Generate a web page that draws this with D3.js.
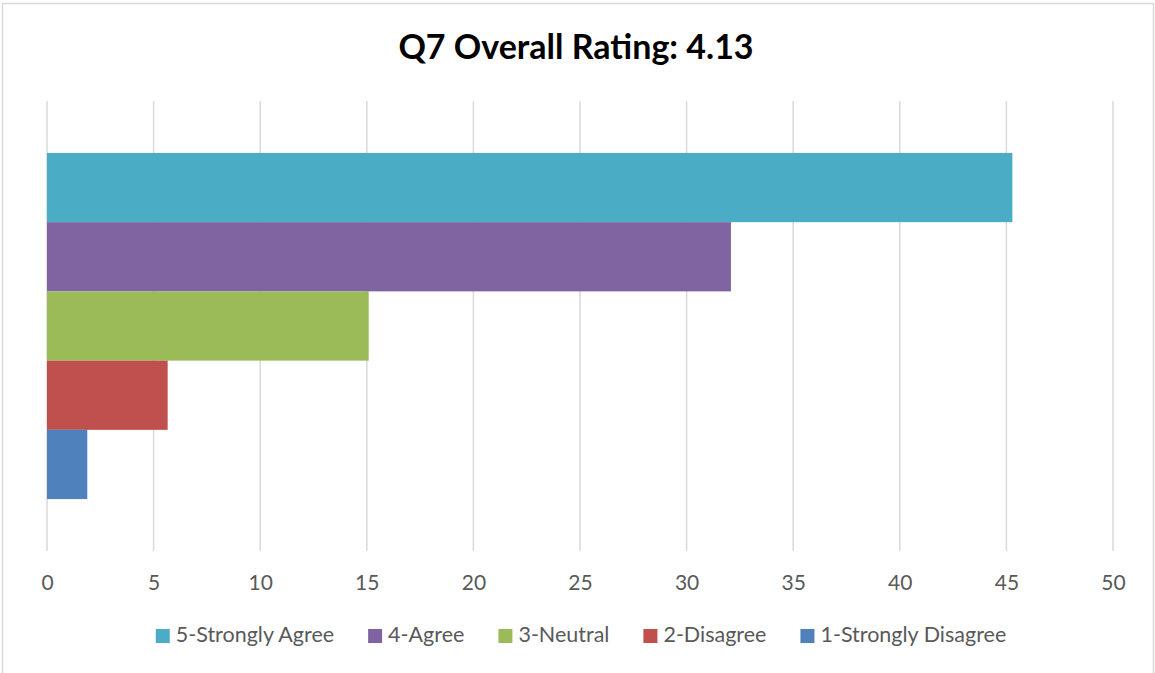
<!DOCTYPE html>
<html>
<head>
<meta charset="utf-8">
<script src="https://cdn.jsdelivr.net/npm/d3@7"></script>
<style>
  html, body { margin: 0; padding: 0; background: #fff; }
  svg { display: block; }
  text { font-family: Lato, "Liberation Sans", sans-serif; }
</style>
</head>
<body>
<div id="chart"></div>
<script>
// responses out of 53, shown as percent
var series = ["5-Strongly Agree", "4-Agree", "3-Neutral", "2-Disagree", "1-Strongly Disagree"];
var values = [45.28, 32.08, 15.09, 5.66, 1.89];
var colors = ["#4BACC6", "#8064A2", "#9BBB59", "#C0504D", "#4F81BD"];
var xTicks = [0, 5, 10, 15, 20, 25, 30, 35, 40, 45, 50];
var title = "Q7 Overall Rating: 4.13";

var width = 1155, height = 673;
var plot = { left: 47, right: 1113, top: 101, bottom: 551 };

var svg = d3.select("#chart").append("svg")
    .attr("width", width)
    .attr("height", height);

// chart border
svg.append("rect")
    .attr("x", 2.5).attr("y", 3.5)
    .attr("width", 1151).attr("height", 680)
    .attr("fill", "#fff")
    .attr("stroke", "#d9d9d9")
    .attr("stroke-width", 1.5);

svg.append("text")
    .attr("x", 576)
    .attr("y", 59)
    .attr("text-anchor", "middle")
    .attr("font-size", 34)
    .attr("font-weight", "bold")
    .attr("fill", "#000")
    .text(title);

var x = d3.scaleLinear().domain([0, 50]).range([plot.left, plot.right]);
var y = d3.scaleBand().domain(series).range([plot.top, plot.bottom])
    .paddingInner(0).paddingOuter(0.75);

// gridlines
svg.append("g")
    .selectAll("line")
    .data(xTicks)
    .join("line")
    .attr("x1", function(d) { return x(d); })
    .attr("x2", function(d) { return x(d); })
    .attr("y1", plot.top)
    .attr("y2", plot.bottom)
    .attr("stroke", "#d9d9d9")
    .attr("stroke-width", 1.5);

// bars
svg.append("g")
    .selectAll("rect")
    .data(series)
    .join("rect")
    .attr("x", x(0))
    .attr("y", function(d) { return y(d); })
    .attr("width", function(d, i) { return x(values[i]) - x(0); })
    .attr("height", y.bandwidth())
    .attr("fill", function(d, i) { return colors[i]; });

// x axis labels
var axis = svg.append("g")
    .attr("transform", "translate(0," + plot.bottom + ")")
    .call(d3.axisBottom(x).tickValues(xTicks).tickSize(0).tickPadding(0));
axis.select(".domain").remove();
axis.selectAll("text")
    .attr("y", 39)
    .attr("dy", 0)
    .attr("font-size", 21)
    .attr("font-family", "Lato, 'Liberation Sans', sans-serif")
    .attr("fill", "#595959");

// legend
var legend = svg.append("g");
var items = legend.selectAll("g")
    .data(series)
    .join("g");
items.append("rect")
    .attr("width", 14).attr("height", 14)
    .attr("y", -13)
    .attr("fill", function(d, i) { return colors[i]; });
items.append("text")
    .attr("x", 20)
    .attr("font-size", 21.5)
    .attr("fill", "#595959")
    .text(function(d) { return d; });

var pos = 0;
items.each(function() {
    var g = d3.select(this);
    g.attr("transform", "translate(" + pos + ",0)");
    pos += 20 + g.select("text").node().getComputedTextLength() + 34;
});
var total = pos - 34;
legend.attr("transform", "translate(" + (581 - total / 2) + ",642)");
</script>
</body>
</html>
